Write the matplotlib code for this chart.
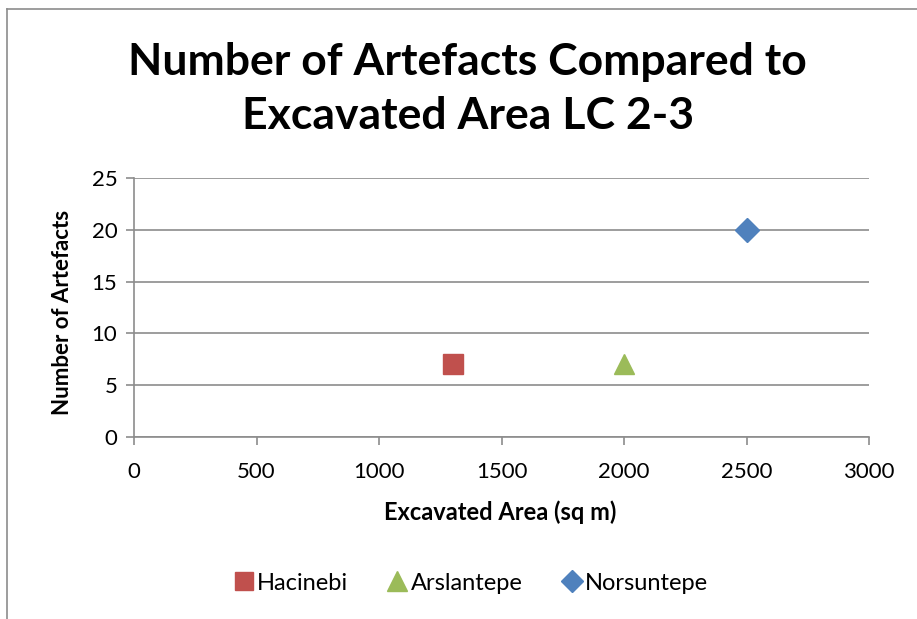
import matplotlib.pyplot as plt
from matplotlib.lines import Line2D

plt.rcParams['font.family'] = ['Lato', 'DejaVu Sans']

sites = ['Hacinebi', 'Arslantepe', 'Norsuntepe']
area = [1300, 2000, 2500]
artefacts = [7, 7, 20]
markers = ['s', '^', 'D']
colors = ['#C0504D', '#9BBB59', '#4F81BD']
sizes = [14, 15, 12]

fig = plt.figure(figsize=(9.17, 6.19), dpi=100)
ax = fig.add_axes([134 / 917, 1 - 437 / 619, (869 - 134) / 917, (437 - 178) / 619])

for s, x, y, m, c, ms in zip(sites, area, artefacts, markers, colors, sizes):
    ax.plot([x], [y], linestyle='none', marker=m, color=c, markersize=ms, label=s)

ax.set_xlim(0, 3000)
ax.set_ylim(0, 25)
ax.set_xticks(range(0, 3001, 500))
ax.set_yticks(range(0, 26, 5))
ax.grid(axis='y', color='#8c8c8c', linewidth=1.2)
ax.set_axisbelow(True)
for side in ['top', 'right']:
    ax.spines[side].set_visible(False)
for side in ['left', 'bottom']:
    ax.spines[side].set_color('#8c8c8c')
    ax.spines[side].set_linewidth(1.2)
ax.tick_params(axis='both', colors='#8c8c8c', length=6, width=1.2, labelsize=16, labelcolor='black')
ax.tick_params(axis='x', pad=12)
ax.tick_params(axis='y', pad=6)

ax.set_xlabel('Excavated Area (sq m)', fontsize=17, fontweight='bold')
ax.xaxis.set_label_coords(500 / 917, 1 - 500 / 619, transform=fig.transFigure)
ax.set_ylabel('Number of Artefacts', fontsize=16, fontweight='bold')
ax.yaxis.set_label_coords(73 / 917, 1 - 312 / 619, transform=fig.transFigure)

fig.text(0.51, 1 - 89 / 619, 'Number of Artefacts Compared to\nExcavated Area LC 2-3',
         ha='center', va='center', fontsize=32, fontweight='bold', linespacing=1.45)

handles = [Line2D([], [], linestyle='none', marker=m, color=c, markersize=ms * 0.95)
           for m, c, ms in zip(markers, colors, sizes)]
fig.legend(handles, sites, loc='center', bbox_to_anchor=(470 / 917, 1 - 583 / 619), ncol=3,
           frameon=False, fontsize=17, handletextpad=0.05, columnspacing=1.6, handlelength=1.0)

# partial chart border (top and left)
fig.add_artist(Line2D([7 / 917, 1], [1 - 9 / 619] * 2, color='#8c8c8c', linewidth=1.2))
fig.add_artist(Line2D([7 / 917] * 2, [0, 1 - 9 / 619], color='#8c8c8c', linewidth=1.2))

fig.savefig('out.png', dpi=100)
